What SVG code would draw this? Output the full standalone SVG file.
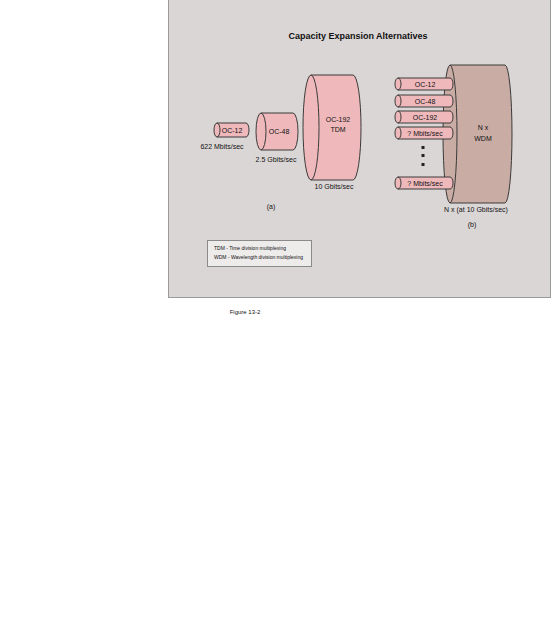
<svg xmlns="http://www.w3.org/2000/svg" width="552" height="640" viewBox="0 0 552 640">
<style>
text{font-family:"Liberation Sans",Arial,sans-serif;fill:#111}
.t{font-size:7px;text-anchor:middle}
.cyl{fill:#efb9bc;stroke:#3a3a3a;stroke-width:1}
.wdm{fill:#c9aca4;stroke:#3a3a3a;stroke-width:1}
.arc{fill:none;stroke:#3a3a3a;stroke-width:1}
.lg{font-size:5px}
</style>
<rect x="0" y="0" width="552" height="640" fill="#ffffff"/>
<rect id="panel" x="168.5" y="-1" width="382" height="298.5" fill="#dbd6d6" stroke="#9a9a9a" stroke-width="1"/>
<text x="358" y="39" style="font-size:9px;font-weight:bold;text-anchor:middle">Capacity Expansion Alternatives</text>

<g id="tdm192">
<path class="cyl" d="M311,75 L353,75 A8,52.5 0 0 1 353,180 L311,180 A8,52.5 0 0 1 311,75 Z"/>
<path class="arc" d="M311,75 A8,52.5 0 0 1 311,180"/>
<text class="t" x="338" y="122">OC-192</text>
<text class="t" x="338" y="132">TDM</text>
<text class="t" x="334" y="189">10 Gbits/sec</text>
</g>

<g id="oc48">
<path class="cyl" d="M261,113 L293,113 A5,18.5 0 0 1 293,150 L261,150 A5,18.5 0 0 1 261,113 Z"/>
<path class="arc" d="M261,113 A5,18.5 0 0 1 261,150"/>
<text class="t" x="279" y="134">OC-48</text>
<text class="t" x="276" y="162">2.5 Gbits/sec</text>
</g>

<g id="oc12">
<path class="cyl" d="M217,123 L246,123 A3,7 0 0 1 246,137 L217,137 A3,7 0 0 1 217,123 Z"/>
<path class="arc" d="M217,123 A3,7 0 0 1 217,137"/>
<text class="t" x="232" y="132.5">OC-12</text>
<text class="t" x="222" y="149">622 Mbits/sec</text>
</g>

<text class="t" x="271" y="209">(a)</text>

<g id="wdm">
<path class="wdm" d="M450,65 L505,65 A7,69 0 0 1 505,203 L450,203 A7,69 0 0 1 450,65 Z"/>
<path class="arc" d="M450,65 A7,69 0 0 1 450,203"/>
<text class="t" x="483" y="130">N x</text>
<text class="t" x="483" y="141">WDM</text>
</g>

<g id="w-oc12">
<path class="cyl" d="M398,78 L450,78 A3,6 0 0 1 450,90 L398,90 A3,6 0 0 1 398,78 Z"/>
<path class="arc" d="M398,78 A3,6 0 0 1 398,90"/>
<text class="t" x="425" y="86.5">OC-12</text>
</g>
<g id="w-oc48">
<path class="cyl" d="M398,95 L450,95 A3,6 0 0 1 450,107 L398,107 A3,6 0 0 1 398,95 Z"/>
<path class="arc" d="M398,95 A3,6 0 0 1 398,107"/>
<text class="t" x="425" y="103.5">OC-48</text>
</g>
<g id="w-oc192">
<path class="cyl" d="M398,111 L450,111 A3,6 0 0 1 450,123 L398,123 A3,6 0 0 1 398,111 Z"/>
<path class="arc" d="M398,111 A3,6 0 0 1 398,123"/>
<text class="t" x="425" y="119.5">OC-192</text>
</g>
<g id="w-q1">
<path class="cyl" d="M398,127 L450,127 A3,6 0 0 1 450,139 L398,139 A3,6 0 0 1 398,127 Z"/>
<path class="arc" d="M398,127 A3,6 0 0 1 398,139"/>
<text class="t" x="425" y="135.5">? Mbits/sec</text>
</g>
<g id="dots" fill="#222">
<rect x="421.5" y="146" width="3" height="3"/>
<rect x="421.5" y="154" width="3" height="3"/>
<rect x="421.5" y="163" width="3" height="3"/>
</g>
<g id="w-q2">
<path class="cyl" d="M398,177 L450,177 A3,6 0 0 1 450,189 L398,189 A3,6 0 0 1 398,177 Z"/>
<path class="arc" d="M398,177 A3,6 0 0 1 398,189"/>
<text class="t" x="425" y="185.5">? Mbits/sec</text>
</g>

<text class="t" x="476" y="212">N x (at 10 Gbits/sec)</text>
<text class="t" x="472" y="227">(b)</text>

<g id="legend">
<rect x="207.5" y="240.5" width="104" height="26" fill="#eeebeb" stroke="#8a8a8a" stroke-width="1"/>
<text class="lg" x="214" y="250">TDM - Time division multiplexing</text>
<text class="lg" x="214" y="258.5">WDM - Wavelength division multiplexing</text>
</g>

<text x="245" y="314" style="font-size:6px;text-anchor:middle">Figure 13-2</text>
</svg>
